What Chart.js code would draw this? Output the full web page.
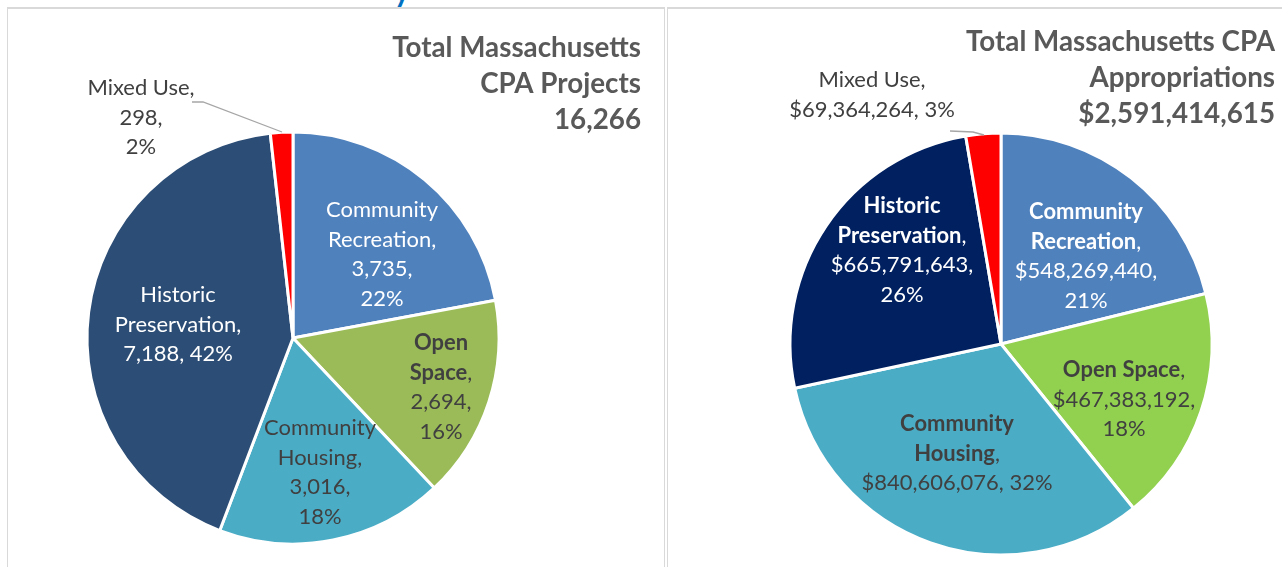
<!DOCTYPE html>
<html><head><meta charset="utf-8">
<script src="https://cdn.jsdelivr.net/npm/chart.js@4.4.0/dist/chart.umd.min.js"></script>
<style>
html,body{margin:0;padding:0;background:#fff;width:1282px;height:567px;overflow:hidden;position:relative;font-family:Lato,sans-serif}
.ln{position:absolute;background:#d9d9d9}
canvas{position:absolute;top:0}
#frag{position:absolute;left:394px;top:-24px;font:bold 30px Lato;line-height:28px;color:#0070C0;white-space:nowrap}
</style></head><body>
<div id="frag">y</div>
<div class="ln" style="left:7px;top:7px;width:658px;height:2px"></div>
<div class="ln" style="left:7px;top:7px;width:1px;height:560px"></div>
<div class="ln" style="left:664px;top:7px;width:1px;height:560px"></div>
<div class="ln" style="left:667px;top:7px;width:615px;height:2px"></div>
<div class="ln" style="left:667px;top:7px;width:1px;height:560px"></div>
<canvas id="c1" width="664" height="567" style="left:0"></canvas>
<canvas id="c2" width="616" height="567" style="left:666px"></canvas>
<script>
// ---------- data ----------
const categories = ['Community Recreation', 'Open Space', 'Community Housing', 'Historic Preservation', 'Mixed Use'];
const projectCounts = [3735, 2694, 3016, 7188, 298];
const projectPercents = ['22%', '16%', '18%', '42%', '2%'];
const appropriations = [548269440, 467383192, 840606076, 665791643, 69364264];
const appropPercents = ['21%', '18%', '32%', '26%', '3%'];
const projectTitle = ['Total Massachusetts', 'CPA Projects', '16,266'];
const appropTitle = ['Total Massachusetts CPA', 'Appropriations', '$2,591,414,615'];

const colorsLeft = ['#4F81BD', '#9BBB59', '#4BACC6', '#2C4D75', '#FF0000'];
const colorsRight = ['#4F81BD', '#92D050', '#4BACC6', '#002060', '#FF0000'];

const FONT = 'Lato';
function fitSize(text, target, weight) {
  const c = document.createElement('canvas').getContext('2d');
  c.font = weight + ' 100px ' + FONT;
  return 100 * target / c.measureText(text).width;
}
const LABEL_PX = fitSize('Community', 112, 'normal');
const TITLE_PX = fitSize('Total Massachusetts', 249, 'bold');
const LINE_H = 29.5;
const TITLE_LH = 36;
const DARK = '#404040';

// label layout: template lines, offsets relative to pie centre (first line), colour, bold-name
const leftLabels = [
  {t: 'N0|N1,|V,|P', dx: 89, dy: -128, color: '#fff', bold: false},
  {t: 'N0|N1,|V,|P', dx: 148, dy: 5, color: DARK, bold: true},
  {t: 'N0|N1,|V,|P', dx: 27, dy: 90, color: DARK, bold: false},
  {t: 'N0|N1,|V, P', dx: -115, dy: -43, color: '#fff', bold: false},
  {t: 'N0 N1,|V,|P', dx: -152, dy: -250, color: DARK, bold: false, leader: [[-101, -236], [-90, -236], [-11, -206]]}
];
const rightLabels = [
  {t: 'N0|N1,|V,|P', dx: 85, dy: -132, color: '#fff', bold: true},
  {t: 'N0 N1,|V,|P', dx: 123, dy: 26, color: DARK, bold: true},
  {t: 'N0|N1,|V, P', dx: -44, dy: 80, color: DARK, bold: true},
  {t: 'N0|N1,|V,|P', dx: -99, dy: -138, color: '#fff', bold: true},
  {t: 'N0 N1,|V, P', dx: -129, dy: -264, color: DARK, bold: false, leader: [[-51, -213], [-28, -212], [-17, -209]]}
];

function buildLines(spec, name, valStr, pct) {
  const words = name.split(' ');
  return spec.t.split('|').map(line => {
    const segs = [];
    line.split(/(N0|N1|V|P)/).forEach(tok => {
      if (!tok) return;
      if (tok === 'N0') segs.push([words[0], spec.bold]);
      else if (tok === 'N1') segs.push([words.slice(1).join(' '), spec.bold]);
      else if (tok === 'V') segs.push([valStr, false]);
      else if (tok === 'P') segs.push([pct, false]);
      else segs.push([tok, false]);
    });
    return segs;
  });
}

function fontFor(bold, px) { return (bold ? 'bold ' : '') + px.toFixed(2) + 'px ' + FONT; }

function drawSegLine(ctx, segs, cx, y, color) {
  let total = 0;
  segs.forEach(s => { ctx.font = fontFor(s[1], LABEL_PX); total += ctx.measureText(s[0]).width; });
  let x = cx - total / 2;
  ctx.fillStyle = color;
  ctx.textAlign = 'left';
  ctx.textBaseline = 'middle';
  segs.forEach(s => { ctx.font = fontFor(s[1], LABEL_PX); ctx.fillText(s[0], x, y); x += ctx.measureText(s[0]).width; });
}

function makeLabelPlugin(values, pcts, specs, fmt, title, titleX, titleY) {
  return {
    id: 'pieLabels',
    afterDatasetsDraw(chart) {
      const ctx = chart.ctx;
      const arcs = chart.getDatasetMeta(0).data;
      const cx = arcs[0].x, cy = arcs[0].y;
      ctx.save();
      specs.forEach((spec, i) => {
        if (spec.leader) {
          ctx.strokeStyle = '#A6A6A6';
          ctx.lineWidth = 1.3;
          ctx.beginPath();
          spec.leader.forEach((p, k) => { if (k === 0) ctx.moveTo(cx + p[0], cy + p[1]); else ctx.lineTo(cx + p[0], cy + p[1]); });
          ctx.stroke();
        }
        const lines = buildLines(spec, categories[i], fmt(values[i]), pcts[i]);
        lines.forEach((segs, k) => drawSegLine(ctx, segs, cx + spec.dx, cy + spec.dy + k * LINE_H, spec.color));
      });
      ctx.fillStyle = '#595959';
      ctx.textAlign = 'right';
      ctx.textBaseline = 'middle';
      ctx.font = fontFor(true, TITLE_PX);
      title.forEach((t, k) => ctx.fillText(t, titleX, titleY + k * TITLE_LH));
      ctx.restore();
    }
  };
}

function makeChart(id, values, colors, pad, radius, plugin) {
  return new Chart(document.getElementById(id), {
    type: 'pie',
    data: {labels: categories, datasets: [{data: values, backgroundColor: colors, borderColor: '#ffffff', borderWidth: 3}]},
    options: {
      responsive: false, animation: false, events: [], radius: radius,
      layout: {padding: pad},
      plugins: {legend: {display: false}, tooltip: {enabled: false}}
    },
    plugins: [plugin]
  });
}

const fmtCount = v => v.toLocaleString('en-US');
const fmtMoney = v => '$' + v.toLocaleString('en-US');

makeChart('c1', projectCounts, colorsLeft, {left: 73, top: 118, right: 151, bottom: 9}, 206,
  makeLabelPlugin(projectCounts, projectPercents, leftLabels, fmtCount, projectTitle, 641, 48));
makeChart('c2', appropriations, colorsRight, {left: 115, top: 124, right: 61, bottom: 3}, 211,
  makeLabelPlugin(appropriations, appropPercents, rightLabels, fmtMoney, appropTitle, 609, 42));
</script>
</body></html>
